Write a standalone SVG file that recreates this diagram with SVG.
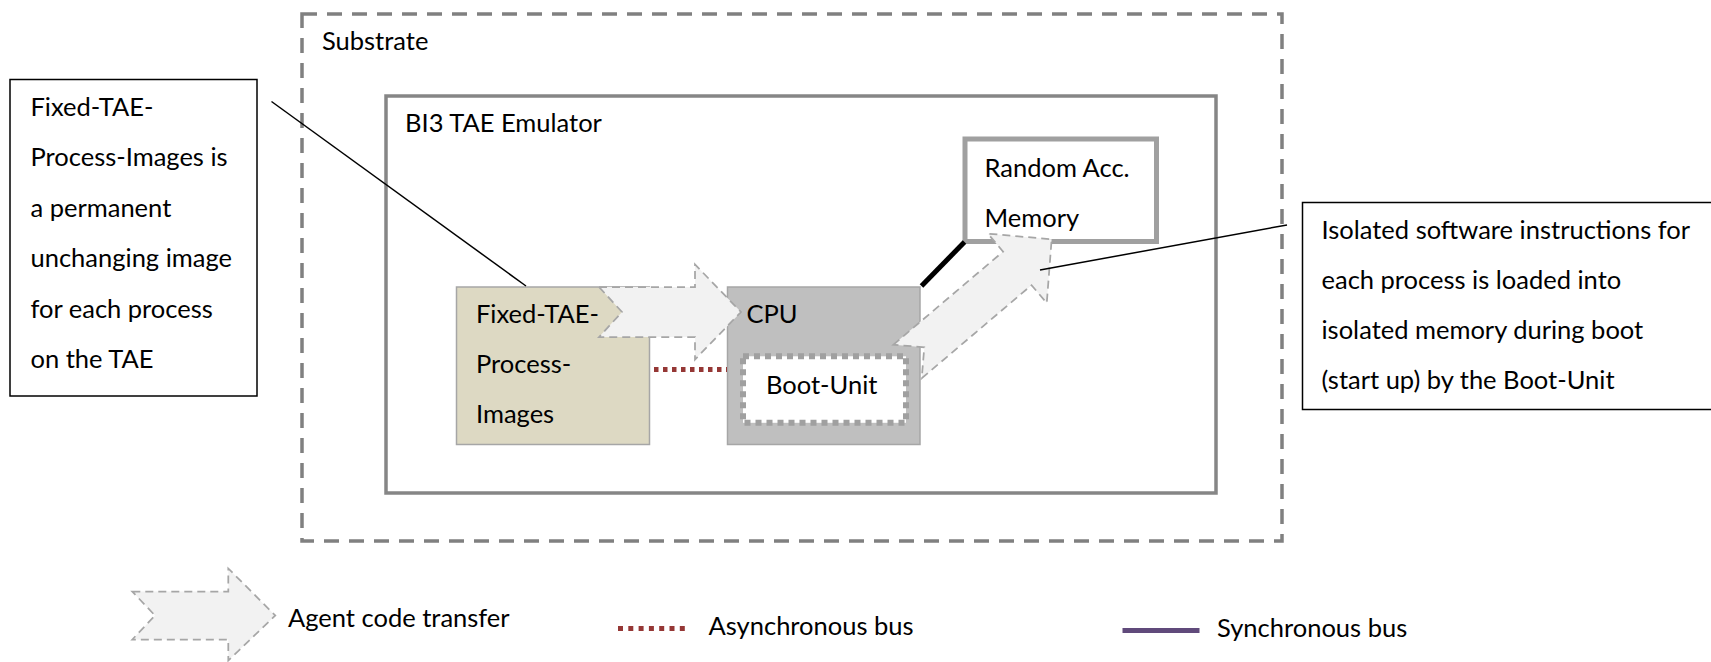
<svg xmlns="http://www.w3.org/2000/svg" width="1711" height="662" viewBox="0 0 1711 662">
<style>
.t{font-family:Lato,"Liberation Sans",sans-serif;font-size:25.5px;fill:#000}
.callout{fill:#fff;stroke:#000;stroke-width:1.5}
.lead{stroke:#000;stroke-width:1.5;fill:none}
.xfer{fill:#F2F2F2;stroke:#A6A6A6;stroke-width:1.75;stroke-dasharray:8 5}
.async{stroke:#953735;stroke-width:5;stroke-dasharray:4.5 4.5;fill:none}
.sync{stroke:#604A7B;stroke-width:5;fill:none}
</style>
<defs>
<polygon id="arrowShape" points="0,-25 96,-25 96,-47.5 142,0 96,47.5 96,25 0,25 23,0"/>
</defs>
<rect width="1711" height="662" fill="#fff"/>

<g id="substrate">
<rect x="302" y="14" width="980" height="527" fill="none" stroke="#808080" stroke-width="3.5" stroke-dasharray="15 10"/>
<text class="t" x="322" y="50">Substrate</text>
</g>

<g id="emulator">
<rect x="386" y="96" width="830" height="397" fill="#fff" stroke="#868686" stroke-width="3.5"/>
<text class="t" x="405" y="131.5">BI3 TAE Emulator</text>
</g>

<g id="ram">
<rect x="965" y="139" width="191.5" height="102.5" fill="#fff" stroke="#A0A0A0" stroke-width="5"/>
<text class="t" x="984.5" y="177">Random Acc.</text>
<text class="t" x="984.5" y="227">Memory</text>
</g>

<g id="fixed-images">
<rect x="456.5" y="287" width="193" height="157.5" fill="#DDD9C3" stroke="#A6A6A6" stroke-width="1.5"/>
</g>

<g id="cpu">
<rect x="727.5" y="287" width="192.5" height="157.5" fill="#BFBFBF" stroke="#A6A6A6" stroke-width="1.5"/>
</g>

<g id="connectors">
<use href="#arrowShape" class="xfer" transform="translate(599,312)"/>
<polygon class="xfer" transform="translate(907.5,361.5) rotate(-40.3)" points="0,-22 144,-22 144,-45.5 189,0 144,45.5 144,22 0,22 22,0"/>
<line class="async" x1="654" y1="369.5" x2="727" y2="369.5"/>
<line x1="921.5" y1="286" x2="964.5" y2="242" stroke="#000" stroke-width="5"/>
<line class="lead" x1="271.5" y1="101.5" x2="526" y2="286"/>
<line class="lead" x1="1040" y1="270" x2="1287" y2="225"/>
</g>

<g id="fixed-images-label">
<text class="t" x="476" y="322.7">Fixed-TAE-</text>
<text class="t" x="476" y="372.7">Process-</text>
<text class="t" x="476" y="423.3">Images</text>
</g>
<g id="cpu-label">
<text class="t" x="746.5" y="322.7">CPU</text>
</g>

<g id="boot-unit">
<rect x="743" y="356.3" width="163" height="66.5" fill="#fff" stroke="#A0A0A0" stroke-width="6" stroke-dasharray="6 5"/>
<text class="t" x="766" y="394">Boot-Unit</text>
</g>

<g id="note-left">
<rect class="callout" x="10" y="79.5" width="247" height="316.5"/>
<text class="t" x="30.5" y="115.5">Fixed-TAE-</text>
<text class="t" x="30.5" y="166">Process-Images is</text>
<text class="t" x="30.5" y="216.5">a permanent</text>
<text class="t" x="30.5" y="267">unchanging image</text>
<text class="t" x="30.5" y="317.5">for each process</text>
<text class="t" x="30.5" y="368">on the TAE</text>
</g>

<g id="note-right">
<rect class="callout" x="1302.5" y="202.5" width="420" height="207"/>
<text class="t" x="1321.5" y="239.3">Isolated software instructions for</text>
<text class="t" x="1321.5" y="289.3">each process is loaded into</text>
<text class="t" x="1321.5" y="339.3">isolated memory during boot</text>
<text class="t" x="1321.5" y="389.3">(start up) by the Boot-Unit</text>
</g>

<g id="legend">
<polygon class="xfer" transform="translate(132.3,615.5)" points="0,-24 96,-24 96,-47 143,0 96,45 96,24 0,24 22.7,0"/>
<text class="t" x="288" y="626.5">Agent code transfer</text>
<line class="async" x1="618" y1="628.5" x2="690" y2="628.5" style="stroke-dasharray:5 5.3"/>
<text class="t" x="708.5" y="634.5">Asynchronous bus</text>
<line class="sync" x1="1122.5" y1="630.5" x2="1199.5" y2="630.5"/>
<text class="t" x="1217" y="637">Synchronous bus</text>
</g>
</svg>
